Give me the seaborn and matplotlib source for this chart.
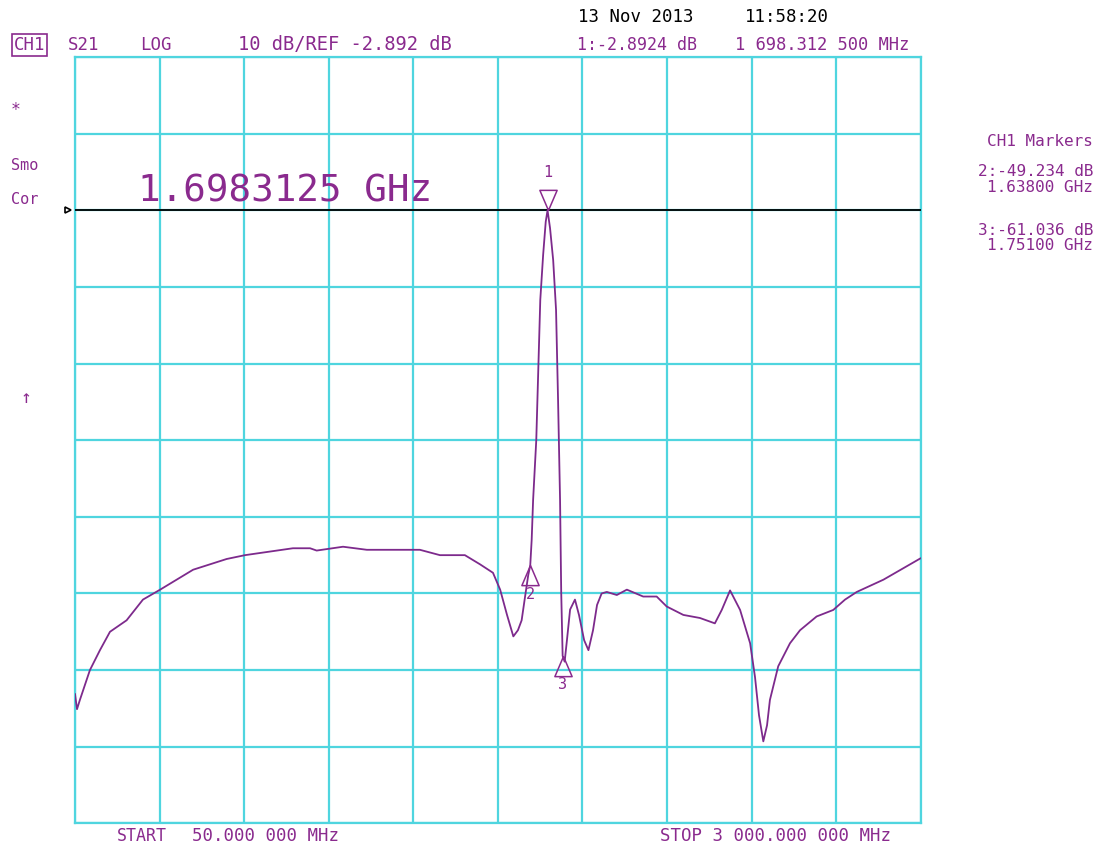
import numpy as np
import pandas as pd
import matplotlib
matplotlib.use("Agg")
import matplotlib.pyplot as plt
import matplotlib.transforms as mtransforms
import seaborn as sns

# S21 sweep, 50 MHz .. 3 GHz
freq_mhz = [50, 57, 67, 102, 137, 172, 230, 287, 347, 462, 579, 643, 810, 870, 893,
            985, 1068, 1253, 1323, 1410, 1463, 1508, 1533, 1557, 1579, 1595, 1608,
            1620, 1631, 1638, 1643, 1648, 1659, 1673, 1683, 1692, 1698.3125, 1707,
            1718, 1728, 1735, 1742, 1746, 1751, 1758, 1766, 1777, 1794, 1808, 1826,
            1841, 1857, 1871, 1887, 1905, 1940, 1975, 2032, 2079, 2114, 2172, 2230,
            2282, 2306, 2335, 2370, 2405, 2422, 2436, 2451, 2464, 2474, 2503, 2544,
            2579, 2637, 2695, 2736, 2777, 2870, 3000]
s21_db = [-66.0, -68.0, -66.8, -62.9, -60.3, -57.9, -56.4, -53.7, -52.4, -49.8, -48.4,
          -47.9, -47.0, -47.0, -47.3, -46.8, -47.2, -47.2, -47.9, -47.9, -49.1, -50.2,
          -52.4, -55.7, -58.5, -57.7, -56.4, -53.3, -50.5, -49.234, -45.9, -40.7,
          -32.9, -14.6, -8.7, -4.4, -2.892, -5.2, -9.4, -15.9, -27.6, -40.7, -52.7,
          -61.036, -61.8, -59.0, -55.0, -53.7, -55.7, -59.0, -60.3, -57.7, -54.4,
          -52.9, -52.7, -53.1, -52.4, -53.3, -53.3, -54.6, -55.7, -56.1, -56.8,
          -55.05, -52.5, -55.05, -59.4, -63.8, -68.8, -72.2, -70.1, -66.8, -62.4,
          -59.4, -57.7, -55.9, -55.05, -53.7, -52.7, -51.1, -48.3]

# Markers: number, frequency (MHz), level (dB)
marker_ids = ["1", "2", "3"]
marker_freq = [1698.3125, 1638.0, 1751.0]
marker_db = [-2.8924, -49.234, -61.036]

start_mhz, stop_mhz = 50.0, 3000.0
ref_db = -2.892
db_per_div = 10
ref_div_from_top = 2

purple = "#8a2a8e"
trace_col = "#7d2a8c"
grid_col = "#4fd5df"
mono = ["DejaVu Sans Mono"]

sns.set_style("white")
plt.rcParams["font.family"] = mono

W, H = 1103, 846
fig = plt.figure(figsize=(W / 100, H / 100), dpi=100)
ax = fig.add_axes([75 / W, 1 - 823.3 / H, 845.7 / W, 766.3 / H])

df = pd.DataFrame({"freq": freq_mhz, "s21": s21_db})
sns.lineplot(data=df, x="freq", y="s21", ax=ax, color=trace_col, lw=1.3,
             estimator=None, sort=False, zorder=4)

top = ref_db + ref_div_from_top * db_per_div
bottom = top - 10 * db_per_div
ax.set_xlim(start_mhz, stop_mhz)
ax.set_ylim(bottom, top)
ax.set_xticks(np.linspace(start_mhz, stop_mhz, 11))
ax.set_yticks(np.linspace(bottom, top, 11))
ax.set_xticklabels([])
ax.set_yticklabels([])
ax.tick_params(length=0)
ax.grid(True, color=grid_col, lw=1.6)
for sp in ax.spines.values():
    sp.set_color(grid_col)
    sp.set_linewidth(1.6)
ax.set_xlabel("")
ax.set_ylabel("")

# reference level line and its indicator just left of the graticule
ax.axhline(ref_db, color="black", lw=1.3, zorder=3)
shift = mtransforms.ScaledTranslation(-7 / 100, 0, fig.dpi_scale_trans)
ax.plot([start_mhz], [ref_db], marker=">", ms=5, mfc="white", mec="black", mew=1.2,
        clip_on=False, zorder=5, transform=ax.transData + shift)

# marker triangles: 1 points down onto the trace, 2 and 3 point up from below
down_tri = [(0, 0), (-0.6, 1.4), (0.6, 1.4), (0, 0)]
up_tri = [(0, 0), (-0.6, -1.4), (0.6, -1.4), (0, 0)]
for mid, f, v in zip(marker_ids, marker_freq, marker_db):
    verts = down_tri if mid == "1" else up_tri
    ax.plot([f], [v], marker=verts, ms=29, mfc="none", mec=purple, mew=1.1,
            ls="none", zorder=6, clip_on=False)
    dy = 27 if mid == "1" else -21
    ax.annotate(mid, (f, v), xytext=(0, dy), textcoords="offset points",
                ha="center", va="center", fontsize=11, color=purple, zorder=6)

ax.text(0.075, 0.825, "1.6983125 GHz", transform=ax.transAxes, fontsize=27,
        color=purple, ha="left", va="center", family=mono)


def ftext(x, y, s, **kw):
    kw.setdefault("fontsize", 12)
    kw.setdefault("color", purple)
    kw.setdefault("va", "center")
    kw.setdefault("family", mono)
    fig.text(x / W, 1 - y / H, s, **kw)


# header
ftext(578, 17, "13 Nov 2013", color="black", fontsize=12.5)
ftext(745, 17, "11:58:20", color="black", fontsize=12.5)
ftext(14, 45, "CH1", fontsize=12.5,
      bbox=dict(boxstyle="square,pad=0.1", fc="white", ec=purple, lw=1.2))
ftext(68, 45, "S21", fontsize=12.5)
ftext(140, 45, "LOG", fontsize=12.5)
ftext(238, 45, "10 dB/REF -2.892 dB", fontsize=13.5)
ftext(577, 45, f"{marker_ids[0]}:{marker_db[0]:.4f} dB", fontsize=12)
ftext(735, 45, "1 698.312 500 MHz", fontsize=12.3)

# left annotations
ftext(11, 110, "*", fontsize=12)
ftext(11, 166, "Smo", fontsize=11)
ftext(11, 199, "Cor", fontsize=11)
ftext(21, 398, "\u2191", fontsize=13)

# marker table
ftext(1093, 142, "CH1 Markers", ha="right", fontsize=11.5)
ftext(1093, 172, f"{marker_ids[1]}:{marker_db[1]:.3f} dB", ha="right", fontsize=11.5)
ftext(1093, 188, f"{marker_freq[1] / 1000:.5f} GHz", ha="right", fontsize=11.5)
ftext(1093, 230, f"{marker_ids[2]}:{marker_db[2]:.3f} dB", ha="right", fontsize=11.5)
ftext(1093, 245, f"{marker_freq[2] / 1000:.5f} GHz", ha="right", fontsize=11.5)

# sweep limits
ftext(117, 836, "START", fontsize=12)
ftext(192, 836, "50.000 000 MHz", fontsize=12.5)
ftext(660, 836, "STOP 3 000.000 000 MHz", fontsize=12.5)

fig.savefig("out.png", dpi=100, facecolor="white")
